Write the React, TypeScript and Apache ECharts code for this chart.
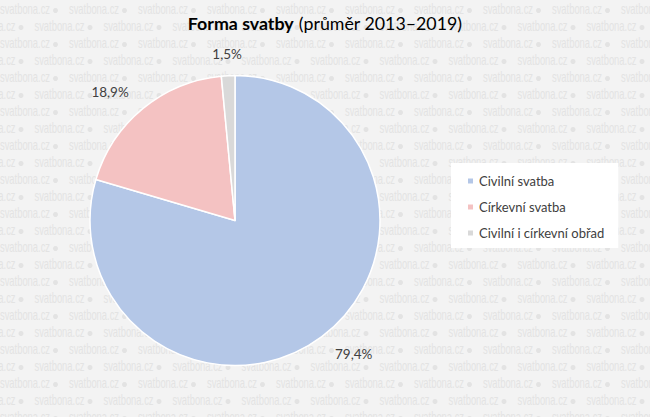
import React, { useEffect, useRef } from "react";
import * as echarts from "echarts";

const categories = ["Civilní svatba", "Církevní svatba", "Civilní i církevní obřad"];
const values = [79.4, 18.9, 1.5];
const colors = ["#b4c7e7", "#f4c2c2", "#d9d9d9"];
const titleMain = "Forma svatby";
const titleSub = "(průměr 2013–2019)";
const watermarkWord = "svatbona.cz";

const W = 650;
const H = 417;
const FONT = "Lato, 'Liberation Sans', Arial, sans-serif";

function buildWatermark() {
  const els: any[] = [];
  const period = 69;
  const rowGap = 17;
  for (let r = 0; r < 25; r++) {
    const y = 9.5 + r * rowGap;
    const off = r % 2 === 0 ? 0 : -period / 2;
    for (let k = 0; k < 11; k++) {
      const x = off + k * period;
      if (x > W) continue;
      els.push({
        type: "text",
        x,
        y,
        scaleX: 0.67,
        silent: true,
        z: 0,
        style: {
          text: watermarkWord,
          fill: "#e3e3e3",
          font: "14px 'Liberation Sans', Arial, sans-serif",
          verticalAlign: "middle",
          align: "left",
        },
      });
      els.push({
        type: "circle",
        silent: true,
        z: 0,
        shape: { cx: x + 55.5, cy: y + 1, r: 2.5 },
        style: { fill: "#e3e3e3" },
      });
    }
  }
  return els;
}

export default function App() {
  const ref = useRef<HTMLDivElement>(null);
  useEffect(() => {
    if (!ref.current) return;
    const chart = echarts.init(ref.current, null, { renderer: "svg" });
    chart.setOption({
      animation: false,
      backgroundColor: "#f3f3f3",
      graphic: { elements: buildWatermark() },
      title: {
        text: `{b|${titleMain}} {n|${titleSub}}`,
        left: "center",
        top: 9,
        textStyle: {
          rich: {
            b: { fontFamily: FONT, fontSize: 17.8, fontWeight: "bold", color: "#000" },
            n: { fontFamily: FONT, fontSize: 17.8, fontWeight: "normal", color: "#000" },
          },
        },
      },
      legend: {
        orient: "vertical",
        left: 451,
        top: 163,
        padding: [10, 14, 7, 15],
        backgroundColor: "#ffffff",
        itemWidth: 7,
        itemHeight: 7,
        itemGap: 10,
        icon: "rect",
        selectedMode: false,
        data: categories,
        textStyle: { fontFamily: FONT, fontSize: 13, lineHeight: 16, color: "#404040" },
      },
      series: [
        {
          type: "pie",
          center: [235, 220.5],
          radius: 145,
          startAngle: 90,
          clockwise: true,
          avoidLabelOverlap: false,
          color: colors,
          itemStyle: { borderColor: "#ffffff", borderWidth: 1.5 },
          label: {
            show: true,
            position: "outside",
            distanceToLabelLine: 0,
            fontFamily: FONT,
            fontSize: 13.5,
            color: "#404040",
            formatter: (p: any) => `${Number(p.value).toFixed(1).replace(".", ",")}%`,
          },
          labelLine: { show: false, length: 22, length2: 0 },
          labelLayout: (p: any) => (p.dataIndex === 2 ? { align: "center" } : {}),
          emphasis: { disabled: true },
          data: categories.map((name, i) => ({ name, value: values[i] })),
        },
      ],
    });
    return () => chart.dispose();
  }, []);
  return (
    <div
      ref={ref}
      style={{ position: "absolute", left: 0, top: 0, width: W, height: H }}
    />
  );
}
